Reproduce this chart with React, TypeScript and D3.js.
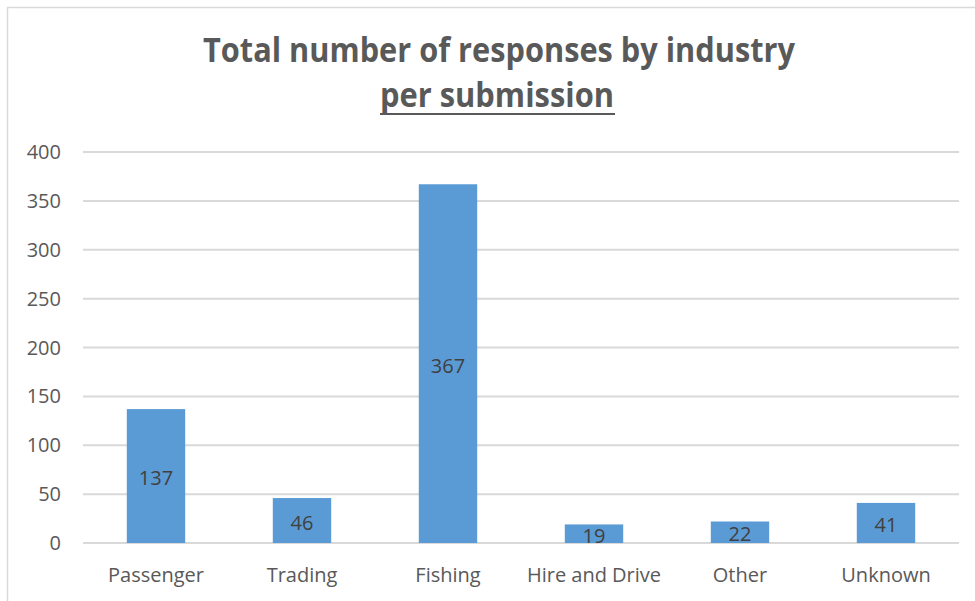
import React from "react";
import * as d3 from "d3";

const categories = ["Passenger", "Trading", "Fishing", "Hire and Drive", "Other", "Unknown"];
const values = [137, 46, 367, 19, 22, 41];
const yTicks = [0, 50, 100, 150, 200, 250, 300, 350, 400];
const titleLine1 = "Total number of responses by industry";
const titleLine2 = "per submission";

export default function App() {
  const W = 975, H = 601;
  const left = 83, right = 959, top = 152, bottom = 543;
  const x = d3.scaleBand<string>().domain(categories).range([left, right]).paddingInner(0.6).paddingOuter(0.3);
  const y = d3.scaleLinear().domain([0, 400]).range([bottom, top]);
  const font = "'Open Sans', sans-serif";
  const grey = "#595959";
  return (
    <svg width={W} height={H} style={{ position: "absolute", left: 0, top: 0, background: "#fff" }} fontFamily={font}>
      <rect x={7.5} y={7.5} width={1200} height={1200} fill="#fff" stroke="#d9d9d9" strokeWidth={1.5} />
      <text x={499} y={62} textAnchor="middle" fontSize={34} fontWeight="bold" fill={grey} textLength={592} lengthAdjust="spacingAndGlyphs">{titleLine1}</text>
      <text x={497} y={107} textAnchor="middle" fontSize={34} fontWeight="bold" fill={grey} textLength={234} lengthAdjust="spacingAndGlyphs">{titleLine2}</text>
      <line x1={380} x2={615} y1={114} y2={114} stroke={grey} strokeWidth={2} />
      {yTicks.map((t) => (
        <g key={t}>
          <line x1={left} x2={right} y1={y(t)} y2={y(t)} stroke="#d9d9d9" strokeWidth={2} />
          <text x={61} y={y(t)} dy="0.35em" textAnchor="end" fontSize={20} fill={grey}>{t}</text>
        </g>
      ))}
      {categories.map((c, i) => {
        const bx = x(c)!;
        const bw = x.bandwidth();
        const yt = y(values[i]);
        return (
          <g key={c}>
            <rect x={bx} y={yt} width={bw} height={bottom - yt} fill="#5b9bd5" />
            <text x={bx + bw / 2} y={(yt + bottom) / 2 + 2} dy="0.35em" textAnchor="middle" fontSize={20} fill="#404040">{values[i]}</text>
            <text x={bx + bw / 2} y={582} textAnchor="middle" fontSize={20} fill={grey}>{c}</text>
          </g>
        );
      })}
    </svg>
  );
}
